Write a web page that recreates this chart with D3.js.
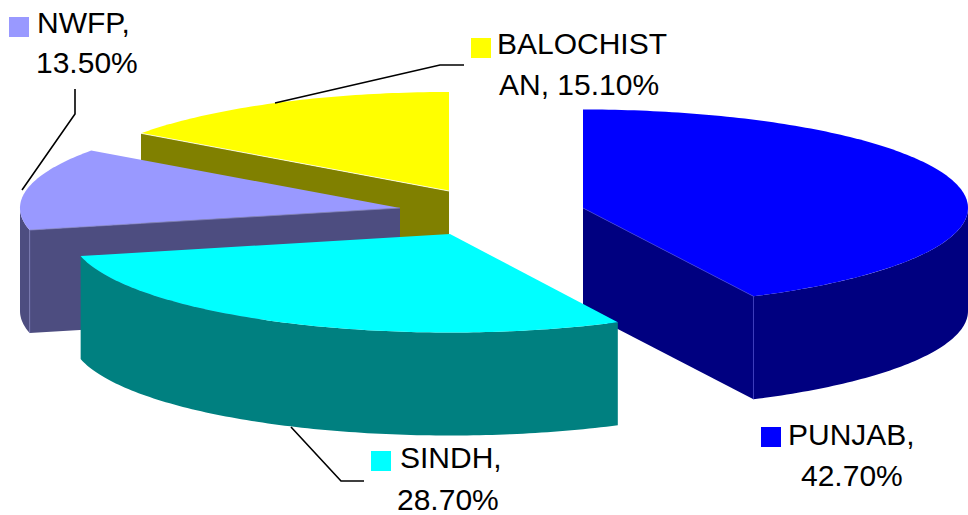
<!DOCTYPE html>
<html>
<head>
<meta charset="utf-8">
<script src="https://cdn.jsdelivr.net/npm/d3@7"></script>
<style>
html,body{margin:0;padding:0;background:#fff;overflow:hidden}
svg{display:block}
text{font-family:"Liberation Sans",Arial,sans-serif;font-size:30px;fill:#000}
</style>
</head>
<body>
<div id="chart"></div>
<script>
// Data
const categories = ["PUNJAB", "SINDH", "NWFP", "BALOCHISTAN"];
const values = [42.7, 28.7, 13.5, 15.1];
const topColors = ["#0000ff", "#00ffff", "#9999ff", "#ffff00"];
const sideColors = ["#000080", "#008080", "#4d4d80", "#808000"];
const labelBreaks = [7, 6, 5, 9]; // character where each label wraps

// Layout (exploded slice centres, ellipse radii)
const W = 968, H = 515, depth = 103;
const centers = [[583, 208], [450, 234], [400, 208], [449, 191]];
const radiiX = [385, 379, 380, 379];
const radiiY = [98.5, 98.5, 98.5, 99];
const drawOrder = [3, 2, 0, 1];
const legendBoxes = [[761, 427], [371, 451], [9, 17], [471, 38]];
const labelXs = [[788, 801], [400, 397], [37, 36], [497, 499]];
const labelYs = [[445, 486], [468, 510], [33, 73], [54, 95]];
const leaders = [null,
  [[291, 427], [341, 481], [364, 481]],
  [[22, 190], [75, 114], [75, 89]],
  [[275, 103], [440, 65], [464, 65]]];
const edgeColors = [ "#3a3ad0", null, "#8080c0", "#ffffff"];

const svg = d3.select("#chart").append("svg").attr("width", W).attr("height", H);
const pie = d3.pie().sort(null).value(d => d)(values);
const line = d3.line();

function point(i, a, dz) {
  const x = d3.scaleLinear().domain([-1, 1]).range([centers[i][0] - radiiX[i], centers[i][0] + radiiX[i]]);
  const y = d3.scaleLinear().domain([-1, 1]).range([centers[i][1] - radiiY[i], centers[i][1] + radiiY[i]]);
  return [x(Math.sin(a)), y(-Math.cos(a)) + (dz || 0)];
}
function samples(a0, a1) {
  const n = Math.max(2, Math.ceil((a1 - a0) * 60));
  return d3.range(n + 1).map(k => a0 + (a1 - a0) * k / n);
}

drawOrder.forEach(i => {
  const s = pie[i];
  const a0 = s.startAngle, a1 = s.endAngle;
  const g = svg.append("g");
  const apex = centers[i];
  const apexLow = [apex[0], apex[1] + depth];

  // visible cut face
  [[a0, -Math.sin(a0)], [a1, Math.sin(a1)]].forEach(([a, facing]) => {
    if (facing > 1e-6) {
      g.append("path")
        .attr("d", line([apex, point(i, a), point(i, a, depth), apexLow]) + "Z")
        .attr("fill", sideColors[i]);
    }
  });

  // outer wall, front half only
  const w0 = Math.max(a0, Math.PI / 2), w1 = Math.min(a1, 3 * Math.PI / 2);
  if (w1 > w0) {
    const arc = samples(w0, w1);
    const pts = arc.map(a => point(i, a)).concat(arc.slice().reverse().map(a => point(i, a, depth)));
    g.append("path").attr("d", line(pts) + "Z").attr("fill", sideColors[i]);
  }

  // top surface
  const topPts = [apex].concat(samples(a0, a1).map(a => point(i, a)));
  g.append("path").attr("d", line(topPts) + "Z").attr("fill", topColors[i]);

  // thin highlight along the visible cut edge
  if (edgeColors[i]) {
    const a = i === 0 ? a1 : a0;
    g.append("path").attr("d", line([apex, point(i, a)]))
      .attr("fill", "none").attr("stroke", edgeColors[i]).attr("stroke-width", 0.8);
    if (i !== 3) {
      g.append("path").attr("d", line([point(i, a), point(i, a, depth)]))
        .attr("fill", "none").attr("stroke", edgeColors[i]).attr("stroke-width", 0.6);
    }
  }
});

// leader lines
leaders.forEach(l => {
  if (l) svg.append("path").attr("d", line(l)).attr("fill", "none")
    .attr("stroke", "#000").attr("stroke-width", 1.6);
});

// legend keys and labels
categories.forEach((c, i) => {
  svg.append("rect")
    .attr("x", legendBoxes[i][0]).attr("y", legendBoxes[i][1])
    .attr("width", 20).attr("height", 20).attr("fill", topColors[i]);
  const full = c + ", " + values[i].toFixed(2) + "%";
  const parts = [full.slice(0, labelBreaks[i]), full.slice(labelBreaks[i]).trim()];
  parts.forEach((t, k) => {
    svg.append("text").attr("x", labelXs[i][k]).attr("y", labelYs[i][k]).text(t);
  });
});
</script>
</body>
</html>
